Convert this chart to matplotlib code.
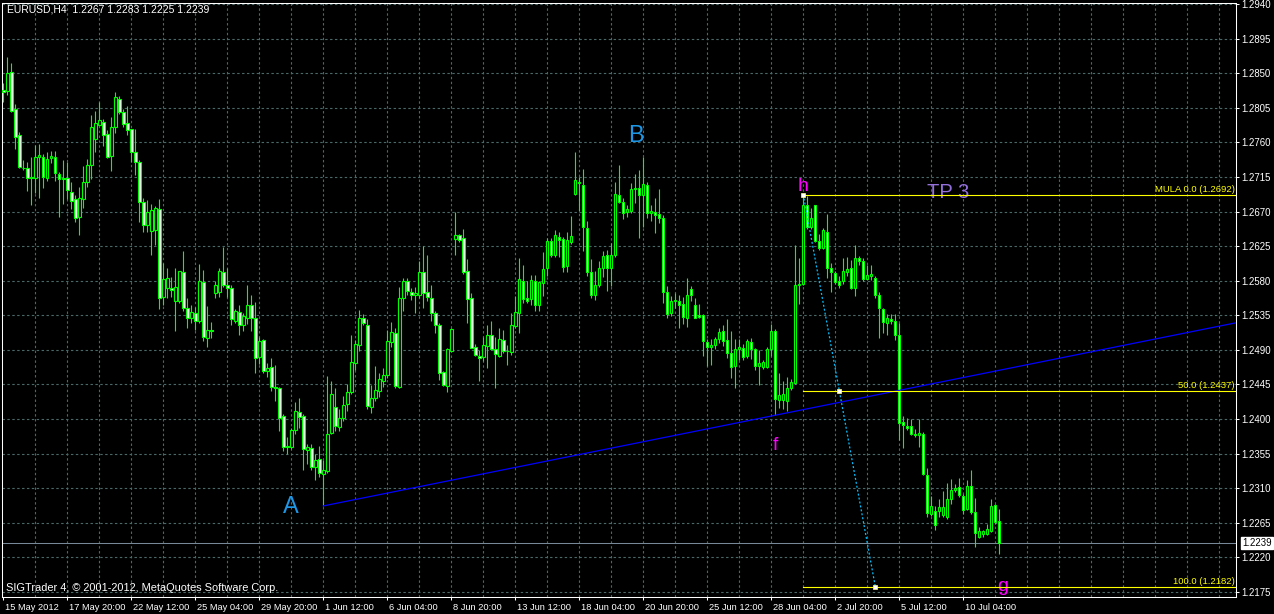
import matplotlib.pyplot as plt
import numpy as np
from matplotlib.transforms import ScaledTranslation

# EURUSD H4 candles, 15 May - 11 Jul 2012
opens = [
    1.2828, 1.2827, 1.2851, 1.2803, 1.2769, 1.2727, 1.2726, 1.2713, 1.2713, 1.2741,
    1.2741, 1.2713, 1.2739, 1.2741, 1.2719, 1.2712, 1.2713, 1.2696, 1.2686, 1.2663,
    1.2686, 1.2709, 1.2730, 1.2764, 1.2783, 1.2787, 1.2771, 1.2742, 1.2780, 1.2817,
    1.2799, 1.2785, 1.2777, 1.2748, 1.2734, 1.2683, 1.2653, 1.2645, 1.2646, 1.2673,
    1.2559, 1.2570, 1.2571, 1.2554, 1.2553, 1.2591, 1.2544, 1.2531, 1.2538, 1.2527,
    1.2578, 1.2506, 1.2516, 1.2564, 1.2565, 1.2591, 1.2574, 1.2571, 1.2528, 1.2539,
    1.2522, 1.2532, 1.2549, 1.2532, 1.2481, 1.2503, 1.2463, 1.2468, 1.2442, 1.2440,
    1.2404, 1.2364, 1.2364, 1.2386, 1.2409, 1.2404, 1.2360, 1.2362, 1.2337, 1.2348,
    1.2329, 1.2332, 1.2382, 1.2416, 1.2390, 1.2401, 1.2419, 1.2435, 1.2473, 1.2496,
    1.2531, 1.2523, 1.2416, 1.2427, 1.2437, 1.2450, 1.2457, 1.2500, 1.2512, 1.2442,
    1.2558, 1.2579, 1.2565, 1.2561, 1.2561, 1.2591, 1.2565, 1.2558, 1.2538, 1.2523,
    1.2461, 1.2443, 1.2489, 1.2634, 1.2639, 1.2635, 1.2592, 1.2557, 1.2494, 1.2482,
    1.2481, 1.2495, 1.2509, 1.2491, 1.2482, 1.2503, 1.2489, 1.2487, 1.2521, 1.2538,
    1.2580, 1.2557, 1.2556, 1.2579, 1.2548, 1.2577, 1.2596, 1.2632, 1.2613, 1.2637,
    1.2634, 1.2599, 1.2631, 1.2693, 1.2709, 1.2705, 1.2648, 1.2591, 1.2561, 1.2574,
    1.2596, 1.2613, 1.2596, 1.2613, 1.2692, 1.2683, 1.2669, 1.2671, 1.2699, 1.2700,
    1.2691, 1.2705, 1.2668, 1.2669, 1.2667, 1.2661, 1.2565, 1.2538, 1.2553, 1.2554,
    1.2550, 1.2532, 1.2569, 1.2548, 1.2535, 1.2536, 1.2500, 1.2494, 1.2496, 1.2504,
    1.2514, 1.2503, 1.2486, 1.2469, 1.2491, 1.2492, 1.2482, 1.2500, 1.2491, 1.2469,
    1.2468, 1.2468, 1.2491, 1.2515, 1.2425, 1.2425, 1.2423, 1.2441, 1.2447, 1.2574,
    1.2576, 1.2678, 1.2650, 1.2678, 1.2632, 1.2623, 1.2644, 1.2597, 1.2590, 1.2580,
    1.2579, 1.2591, 1.2596, 1.2571, 1.2609, 1.2606, 1.2582, 1.2586, 1.2584, 1.2561,
    1.2543, 1.2525, 1.2530, 1.2528, 1.2509, 1.2396, 1.2391, 1.2391, 1.2381, 1.2379,
    1.2381, 1.2327, 1.2277, 1.2281, 1.2280, 1.2275, 1.2273, 1.2296, 1.2308, 1.2311,
    1.2300, 1.2283, 1.2313, 1.2279, 1.2247, 1.2251, 1.2251, 1.2255, 1.2288, 1.2267,
]
highs = [
    1.2837, 1.2871, 1.2863, 1.2810, 1.2773, 1.2737, 1.2735, 1.2741, 1.2757, 1.2758,
    1.2745, 1.2747, 1.2749, 1.2749, 1.2721, 1.2737, 1.2734, 1.2708, 1.2691, 1.2702,
    1.2729, 1.2738, 1.2796, 1.2801, 1.2813, 1.2790, 1.2776, 1.2793, 1.2825, 1.2820,
    1.2804, 1.2807, 1.2778, 1.2777, 1.2737, 1.2688, 1.2685, 1.2680, 1.2677, 1.2686,
    1.2603, 1.2597, 1.2585, 1.2596, 1.2593, 1.2619, 1.2557, 1.2548, 1.2546, 1.2602,
    1.2594, 1.2547, 1.2526, 1.2579, 1.2596, 1.2624, 1.2596, 1.2574, 1.2543, 1.2548,
    1.2538, 1.2575, 1.2561, 1.2552, 1.2507, 1.2504, 1.2473, 1.2479, 1.2470, 1.2442,
    1.2407, 1.2377, 1.2389, 1.2422, 1.2427, 1.2407, 1.2368, 1.2368, 1.2355, 1.2365,
    1.2347, 1.2456, 1.2449, 1.2441, 1.2413, 1.2430, 1.2446, 1.2509, 1.2503, 1.2542,
    1.2537, 1.2530, 1.2444, 1.2469, 1.2460, 1.2467, 1.2516, 1.2526, 1.2518, 1.2572,
    1.2584, 1.2584, 1.2571, 1.2572, 1.2606, 1.2625, 1.2613, 1.2574, 1.2540, 1.2525,
    1.2462, 1.2493, 1.2519, 1.2669, 1.2641, 1.2647, 1.2608, 1.2564, 1.2498, 1.2490,
    1.2507, 1.2522, 1.2528, 1.2507, 1.2518, 1.2516, 1.2496, 1.2538, 1.2560, 1.2609,
    1.2600, 1.2579, 1.2587, 1.2587, 1.2580, 1.2617, 1.2635, 1.2635, 1.2646, 1.2643,
    1.2637, 1.2643, 1.2664, 1.2747, 1.2715, 1.2725, 1.2658, 1.2608, 1.2592, 1.2605,
    1.2619, 1.2620, 1.2629, 1.2708, 1.2731, 1.2687, 1.2679, 1.2707, 1.2719, 1.2724,
    1.2741, 1.2708, 1.2679, 1.2687, 1.2699, 1.2666, 1.2573, 1.2560, 1.2564, 1.2561,
    1.2559, 1.2584, 1.2573, 1.2558, 1.2550, 1.2537, 1.2504, 1.2504, 1.2507, 1.2519,
    1.2522, 1.2530, 1.2515, 1.2504, 1.2504, 1.2498, 1.2504, 1.2505, 1.2493, 1.2490,
    1.2477, 1.2494, 1.2524, 1.2517, 1.2460, 1.2449, 1.2455, 1.2452, 1.2626, 1.2609,
    1.2692, 1.2690, 1.2674, 1.2679, 1.2641, 1.2648, 1.2667, 1.2603, 1.2592, 1.2586,
    1.2610, 1.2611, 1.2607, 1.2626, 1.2612, 1.2610, 1.2600, 1.2600, 1.2586, 1.2565,
    1.2545, 1.2537, 1.2537, 1.2537, 1.2525, 1.2404, 1.2401, 1.2400, 1.2387, 1.2400,
    1.2383, 1.2336, 1.2300, 1.2287, 1.2296, 1.2306, 1.2317, 1.2322, 1.2316, 1.2323,
    1.2303, 1.2321, 1.2334, 1.2297, 1.2260, 1.2256, 1.2264, 1.2296, 1.2289, 1.2283,
]
lows = [
    1.2813, 1.2822, 1.2799, 1.2752, 1.2727, 1.2724, 1.2697, 1.2679, 1.2694, 1.2688,
    1.2700, 1.2710, 1.2733, 1.2710, 1.2663, 1.2680, 1.2686, 1.2673, 1.2657, 1.2639,
    1.2674, 1.2702, 1.2712, 1.2748, 1.2782, 1.2755, 1.2739, 1.2723, 1.2772, 1.2797,
    1.2780, 1.2770, 1.2734, 1.2718, 1.2657, 1.2644, 1.2644, 1.2613, 1.2626, 1.2543,
    1.2549, 1.2557, 1.2559, 1.2514, 1.2551, 1.2541, 1.2518, 1.2525, 1.2516, 1.2525,
    1.2502, 1.2494, 1.2506, 1.2558, 1.2559, 1.2572, 1.2559, 1.2522, 1.2525, 1.2509,
    1.2515, 1.2524, 1.2515, 1.2460, 1.2472, 1.2460, 1.2455, 1.2437, 1.2423, 1.2384,
    1.2359, 1.2355, 1.2361, 1.2381, 1.2388, 1.2334, 1.2342, 1.2334, 1.2321, 1.2324,
    1.2287, 1.2330, 1.2380, 1.2384, 1.2385, 1.2398, 1.2411, 1.2433, 1.2464, 1.2489,
    1.2522, 1.2413, 1.2408, 1.2424, 1.2429, 1.2442, 1.2453, 1.2494, 1.2441, 1.2441,
    1.2541, 1.2561, 1.2555, 1.2538, 1.2557, 1.2544, 1.2554, 1.2527, 1.2512, 1.2451,
    1.2443, 1.2435, 1.2488, 1.2613, 1.2631, 1.2589, 1.2525, 1.2492, 1.2482, 1.2449,
    1.2476, 1.2467, 1.2490, 1.2440, 1.2481, 1.2486, 1.2470, 1.2483, 1.2518, 1.2512,
    1.2551, 1.2551, 1.2548, 1.2541, 1.2540, 1.2560, 1.2586, 1.2611, 1.2611, 1.2611,
    1.2591, 1.2591, 1.2628, 1.2692, 1.2671, 1.2618, 1.2586, 1.2557, 1.2555, 1.2572,
    1.2585, 1.2567, 1.2573, 1.2611, 1.2681, 1.2660, 1.2663, 1.2668, 1.2681, 1.2636,
    1.2650, 1.2661, 1.2658, 1.2642, 1.2655, 1.2551, 1.2531, 1.2534, 1.2545, 1.2518,
    1.2524, 1.2520, 1.2554, 1.2531, 1.2531, 1.2482, 1.2469, 1.2470, 1.2491, 1.2499,
    1.2495, 1.2480, 1.2454, 1.2440, 1.2477, 1.2477, 1.2479, 1.2478, 1.2464, 1.2444,
    1.2465, 1.2466, 1.2482, 1.2405, 1.2414, 1.2413, 1.2411, 1.2438, 1.2446, 1.2550,
    1.2575, 1.2647, 1.2647, 1.2631, 1.2620, 1.2621, 1.2584, 1.2565, 1.2576, 1.2571,
    1.2576, 1.2586, 1.2569, 1.2560, 1.2600, 1.2580, 1.2581, 1.2581, 1.2558, 1.2506,
    1.2512, 1.2510, 1.2524, 1.2503, 1.2373, 1.2362, 1.2386, 1.2379, 1.2377, 1.2364,
    1.2327, 1.2272, 1.2274, 1.2256, 1.2273, 1.2272, 1.2270, 1.2290, 1.2305, 1.2298,
    1.2277, 1.2282, 1.2277, 1.2233, 1.2245, 1.2246, 1.2249, 1.2253, 1.2264, 1.2225,
]
closes = [
    1.2825, 1.2850, 1.2801, 1.2767, 1.2728, 1.2726, 1.2713, 1.2715, 1.2741, 1.2743,
    1.2715, 1.2738, 1.2742, 1.2720, 1.2712, 1.2714, 1.2698, 1.2684, 1.2662, 1.2687,
    1.2709, 1.2731, 1.2780, 1.2785, 1.2789, 1.2769, 1.2741, 1.2780, 1.2819, 1.2800,
    1.2784, 1.2776, 1.2748, 1.2735, 1.2682, 1.2652, 1.2670, 1.2672, 1.2675, 1.2558,
    1.2582, 1.2583, 1.2568, 1.2572, 1.2592, 1.2544, 1.2531, 1.2539, 1.2528, 1.2579,
    1.2507, 1.2516, 1.2514, 1.2574, 1.2593, 1.2575, 1.2571, 1.2530, 1.2540, 1.2523,
    1.2534, 1.2548, 1.2531, 1.2480, 1.2501, 1.2462, 1.2467, 1.2442, 1.2440, 1.2402,
    1.2364, 1.2365, 1.2386, 1.2410, 1.2403, 1.2361, 1.2364, 1.2338, 1.2347, 1.2330,
    1.2334, 1.2381, 1.2432, 1.2391, 1.2402, 1.2418, 1.2435, 1.2474, 1.2498, 1.2531,
    1.2525, 1.2417, 1.2427, 1.2438, 1.2452, 1.2457, 1.2501, 1.2513, 1.2443, 1.2557,
    1.2579, 1.2566, 1.2562, 1.2564, 1.2591, 1.2564, 1.2559, 1.2538, 1.2522, 1.2460,
    1.2444, 1.2491, 1.2517, 1.2639, 1.2633, 1.2591, 1.2556, 1.2493, 1.2483, 1.2479,
    1.2496, 1.2510, 1.2491, 1.2484, 1.2504, 1.2489, 1.2488, 1.2522, 1.2539, 1.2582,
    1.2556, 1.2554, 1.2581, 1.2548, 1.2578, 1.2595, 1.2632, 1.2613, 1.2639, 1.2633,
    1.2598, 1.2633, 1.2638, 1.2711, 1.2707, 1.2650, 1.2591, 1.2561, 1.2575, 1.2596,
    1.2612, 1.2597, 1.2613, 1.2693, 1.2683, 1.2668, 1.2673, 1.2699, 1.2701, 1.2692,
    1.2706, 1.2668, 1.2671, 1.2666, 1.2661, 1.2565, 1.2537, 1.2553, 1.2555, 1.2549,
    1.2533, 1.2561, 1.2562, 1.2532, 1.2533, 1.2501, 1.2494, 1.2496, 1.2504, 1.2513,
    1.2501, 1.2486, 1.2468, 1.2491, 1.2494, 1.2481, 1.2501, 1.2491, 1.2469, 1.2473,
    1.2474, 1.2491, 1.2515, 1.2426, 1.2431, 1.2432, 1.2441, 1.2448, 1.2574, 1.2576,
    1.2678, 1.2650, 1.2662, 1.2632, 1.2623, 1.2646, 1.2596, 1.2591, 1.2578, 1.2575,
    1.2593, 1.2595, 1.2570, 1.2610, 1.2606, 1.2582, 1.2587, 1.2589, 1.2561, 1.2544,
    1.2526, 1.2531, 1.2528, 1.2510, 1.2395, 1.2392, 1.2389, 1.2380, 1.2379, 1.2382,
    1.2329, 1.2278, 1.2287, 1.2262, 1.2285, 1.2286, 1.2296, 1.2308, 1.2310, 1.2301,
    1.2282, 1.2313, 1.2279, 1.2252, 1.2255, 1.2255, 1.2257, 1.2287, 1.2266, 1.2239,
]

date_labels = ['15 May 2012', '17 May 20:00', '22 May 12:00', '25 May 04:00',
               '29 May 20:00', '1 Jun 12:00', '6 Jun 04:00', '8 Jun 20:00',
               '13 Jun 12:00', '18 Jun 04:00', '20 Jun 20:00', '25 Jun 12:00',
               '28 Jun 04:00', '2 Jul 20:00', '5 Jul 12:00', '10 Jul 04:00']
price_labels = [1.2175, 1.2220, 1.2265, 1.2310, 1.2355, 1.2400, 1.2445, 1.2490, 1.2535,
                1.2580, 1.2625, 1.2670, 1.2715, 1.2760, 1.2805, 1.2850, 1.2895, 1.2940]

# fibo drawn from h (bar 200) down to g (bar 218)
fib_levels = [1.2692, 1.2437, 1.2182]
fib_names = ['MULA 0.0', '50.0', '100.0']
h_bar, g_bar = 200, 218
a_bar, f_bar = 80, 193   # trend line through the two lows

FONT = 'Liberation Sans'
GREEN = '#00FF00'
GRID = '#4A6868'

x = np.arange(len(closes))
o = np.array(opens)
c = np.array(closes)

fig = plt.figure(figsize=(12.74, 6.14), dpi=100, facecolor='black')
ax = fig.add_axes([2 / 1274, 17 / 614, 1234 / 1274, 594 / 614], facecolor='black')
x0, x1 = -0.325, 308.175
ax.set_xlim(x0, x1)
ax.set_ylim(1.21685, 1.29413)

# grid
for p in price_labels:
    ax.axhline(p, color=GRID, lw=0.8, ls=(0, (2.2, 2.2)), zorder=1, snap=True)
for gx in range(8, 309, 8):
    ax.axvline(gx, color=GRID, lw=0.8, ls=(0, (2.2, 2.2)), zorder=1, snap=True)

# bid line
ax.axhline(closes[-1], color='#778899', lw=0.75, zorder=2, snap=True)

# candles
ax.vlines(x, lows, highs, color=GREEN, lw=0.8, zorder=3)
fills = np.where(c < o, 'white', 'black')
ax.bar(x, np.abs(c - o), width=0.6, bottom=np.minimum(o, c), color=fills,
       edgecolor=GREEN, linewidth=0.8, zorder=4)

# trend line A -> f, extended right
slope = (lows[f_bar] - lows[a_bar]) / (f_bar - a_bar)
ax.plot([a_bar, x1], [lows[a_bar], lows[a_bar] + slope * (x1 - a_bar)],
        color='#0000FF', lw=0.9, zorder=5)

# fibo levels
for lvl, nm in zip(fib_levels, fib_names):
    ax.plot([h_bar, x1], [lvl, lvl], color='#FFFF00', lw=0.8, zorder=5, snap=True)
    ax.text(307.9, lvl + 0.00012, f'{nm} ({lvl:.4f})', ha='right', va='bottom',
            color='#FFFF00', family=FONT, fontsize=6.8, zorder=6)
ax.plot([h_bar, g_bar], [fib_levels[0], fib_levels[2]], color='#00BFFF', lw=0.9,
        ls=(0, (1.6, 1.6)), zorder=6)
ax.plot([h_bar, (h_bar + g_bar) / 2, g_bar], fib_levels, 's', ms=2.4,
        mfc='white', mec='#FFFF99', mew=0.5, zorder=7)

# wave labels
ax.text(71.9, 1.22782, 'A', color='#1E96E6', fontsize=17, family=FONT,
        ha='center', va='baseline')
ax.text(158.05, 1.27605, 'B', color='#1E96E6', fontsize=17, family=FONT,
        ha='center', va='baseline')
ax.text(199.9, 1.26971, 'h', color='#FF00FF', fontsize=14, family=FONT,
        ha='center', va='baseline')
ax.text(193.1, 1.23598, 'f', color='#FF00FF', fontsize=14, family=FONT,
        ha='center', va='baseline')
ax.text(249.9, 1.21760, 'g', color='#FF00FF', fontsize=14, family=FONT,
        ha='center', va='baseline')
ax.text(230.9, 1.26876, 'TP 3', color='#9370DB', fontsize=14.5, family=FONT,
        ha='left', va='baseline')

# axes look
for s in ax.spines.values():
    s.set_color('white')
    s.set_linewidth(0.75)
ax.yaxis.tick_right()
ax.set_yticks(price_labels)
ax.set_yticklabels([f'{p:.4f}' for p in price_labels])
ax.set_xticks(range(0, 16 * len(date_labels), 16))
ax.set_xticklabels(date_labels)
ax.tick_params(colors='white', labelcolor='white', width=0.75,
               length=2.5, direction='out', pad=1.5)
for lab in ax.get_yticklabels():
    lab.set_family(FONT)
    lab.set_fontsize(6.9)
shift = ScaledTranslation(1.5 / 72, 0, fig.dpi_scale_trans)
for lab in ax.get_xticklabels():
    lab.set_family(FONT)
    lab.set_fontsize(6.7)
    lab.set_ha('left')
    lab.set_transform(lab.get_transform() + shift)

# current price box
ax.annotate(f'{closes[-1]:.4f}', xy=(1, closes[-1]), xycoords=('axes fraction', 'data'),
            xytext=(15.1, 0), textcoords='offset points', ha='center', va='center',
            color='black', family=FONT, fontsize=6.9, annotation_clip=False,
            bbox=dict(boxstyle='square,pad=0.1', fc='white', ec='white'))

# header and footer texts
fig.text(7 / 1274, 1 - 4 / 614,
         f'EURUSD,H4  {opens[-1]:.4f} {highs[-1]:.4f} {lows[-1]:.4f} {closes[-1]:.4f}',
         color='white', fontsize=7.5, family=FONT, ha='left', va='top')
ax.text(0.0033, 0.006, 'SIGTrader 4, \u00a9 2001-2012, MetaQuotes Software Corp.',
        transform=ax.transAxes, color='white', family=FONT, fontsize=7.9,
        ha='left', va='bottom')

fig.savefig('out.png', dpi=100, facecolor='black')
